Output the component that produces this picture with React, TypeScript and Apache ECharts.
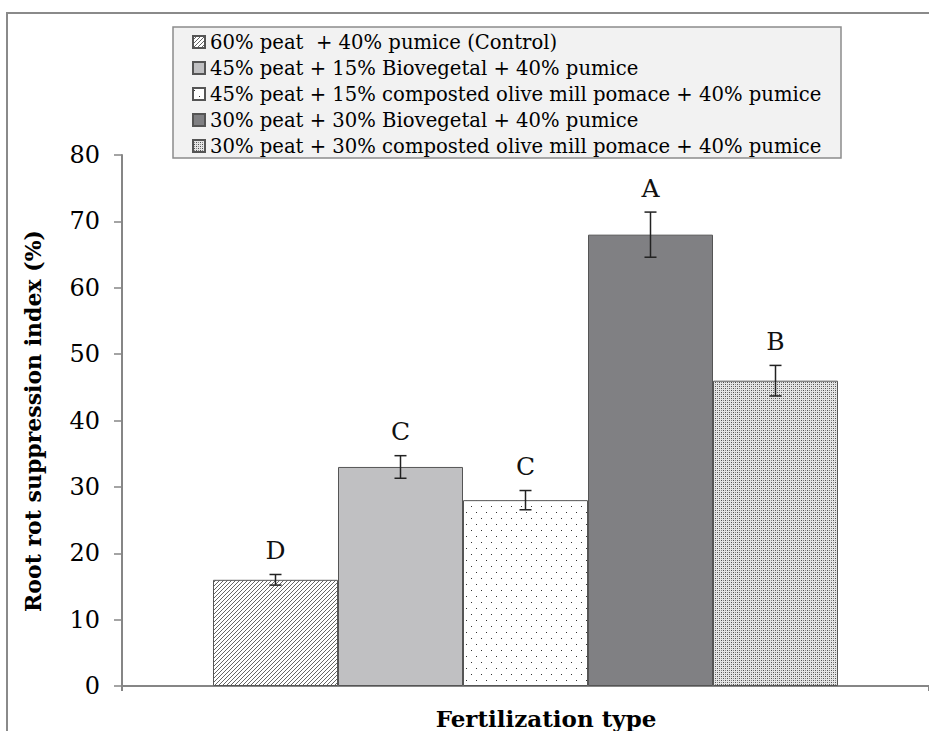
import React, { useEffect, useRef } from "react";
import * as echarts from "echarts";

const categories = ["Fertilization type"];
const seriesNames = [
  "60% peat  + 40% pumice (Control)",
  "45% peat + 15% Biovegetal + 40% pumice",
  "45% peat + 15% composted olive mill pomace + 40% pumice",
  "30% peat + 30% Biovegetal + 40% pumice",
  "30% peat + 30% composted olive mill pomace + 40% pumice",
];
const values = [16, 33, 28, 68, 46];
const errors = [0.8, 1.7, 1.45, 3.4, 2.3];
const letters = ["D", "C", "C", "A", "B"];
const yMin = 0;
const yMax = 80;
const yInterval = 10;

const BAR_WIDTH = 125;
const FONT = "DejaVu Serif";

function makeTile(w: number, h: number, bg: string, draw: (ctx: CanvasRenderingContext2D) => void) {
  const c = document.createElement("canvas");
  c.width = w;
  c.height = h;
  const ctx = c.getContext("2d")!;
  ctx.fillStyle = bg;
  ctx.fillRect(0, 0, w, h);
  draw(ctx);
  return { image: c, repeat: "repeat" } as any;
}

function patterns() {
  const hatch = makeTile(4, 4, "#ffffff", (ctx) => {
    ctx.fillStyle = "#666666";
    for (let x = 0; x < 4; x++) ctx.fillRect(x, 3 - x, 1, 1);
  });
  const sparse = makeTile(10, 12, "#ffffff", (ctx) => {
    ctx.fillStyle = "#333333";
    ctx.fillRect(1, 2, 1, 1);
    ctx.fillRect(6, 8, 1, 1);
  });
  const dense = makeTile(4, 4, "#e6e6e6", (ctx) => {
    ctx.fillStyle = "#505050";
    ctx.fillRect(1, 0, 1, 1);
    ctx.fillRect(3, 2, 1, 1);
    ctx.fillStyle = "#8a8a8a";
    ctx.fillRect(1, 2, 1, 1);
    ctx.fillRect(3, 0, 1, 1);
  });
  return [hatch, "#c0c0c2", sparse, "#808083", dense];
}

export default function App() {
  const ref = useRef<HTMLDivElement>(null);
  useEffect(() => {
    if (!ref.current) return;
    const chart = echarts.init(ref.current, null, { renderer: "svg" });
    const fills = patterns();
    const barSeries = seriesNames.map((name, i) => ({
      name,
      type: "bar",
      data: [values[i]],
      barWidth: BAR_WIDTH,
      barGap: "0%",
      itemStyle: { color: fills[i], borderColor: "#555555", borderWidth: 1 },
      emphasis: { disabled: true },
    }));
    const n = seriesNames.length;
    const errSeries = {
      type: "custom",
      name: "err",
      z: 10,
      data: values.map((v, i) => [0, v, errors[i], i]),
      encode: { x: 0, y: 1 },
      renderItem: (params: any, api: any) => {
        const v = api.value(1);
        const e = api.value(2);
        const i = api.value(3);
        const base = api.coord([0, v]);
        const cx = base[0] + (i - (n - 1) / 2) * BAR_WIDTH;
        const top = api.coord([0, v + e])[1];
        const bot = api.coord([0, v - e])[1];
        const cap = 6;
        const st = { stroke: "#222222", lineWidth: 1.5 };
        return {
          type: "group",
          children: [
            { type: "line", shape: { x1: cx, y1: top, x2: cx, y2: bot }, style: st },
            { type: "line", shape: { x1: cx - cap, y1: top, x2: cx + cap, y2: top }, style: st },
            { type: "line", shape: { x1: cx - cap, y1: bot, x2: cx + cap, y2: bot }, style: st },
            {
              type: "text",
              x: cx,
              y: top - 24,
              style: {
                text: letters[i],
                align: "center",
                verticalAlign: "middle",
                fontFamily: FONT,
                fontSize: 25,
                fill: "#111111",
              },
            },
          ],
        };
      },
    };
    chart.setOption({
      animation: false,
      graphic: [
        { type: "line", shape: { x1: 6, y1: 13, x2: 929, y2: 13 }, style: { stroke: "#8a8a8a", lineWidth: 2 } },
        { type: "line", shape: { x1: 7, y1: 13, x2: 7, y2: 731 }, style: { stroke: "#8a8a8a", lineWidth: 2 } },
        {
          type: "rect",
          z: 0,
          shape: { x: 173, y: 27, width: 668, height: 131 },
          style: { fill: "#f2f2f2", stroke: "#8c8c8c", lineWidth: 1.5 },
        },
        {
          type: "text",
          x: 546,
          y: 718,
          style: {
            text: "Fertilization type",
            align: "center",
            verticalAlign: "middle",
            fontFamily: FONT,
            fontWeight: "bold",
            fontSize: 23,
            fill: "#000000",
          },
        },
        {
          type: "text",
          x: 33,
          y: 421,
          rotation: Math.PI / 2,
          style: {
            text: "Root rot suppression index (%)",
            align: "center",
            verticalAlign: "middle",
            fontFamily: FONT,
            fontWeight: "bold",
            fontSize: 22,
            fill: "#000000",
          },
        },
      ],
      legend: {
        orient: "vertical",
        left: 188,
        top: 28,
        padding: 4,
        itemGap: 6,
        itemWidth: 12,
        itemHeight: 12,
        icon: "rect",
        data: seriesNames,
        selectedMode: false,
        textStyle: { fontFamily: FONT, fontSize: 19.6, color: "#000000" },
        z: 5,
      },
      grid: { left: 122, top: 155, bottom: 45, right: -4, containLabel: false },
      xAxis: {
        type: "category",
        data: categories,
        axisLine: { lineStyle: { color: "#868686", width: 2 } },
        axisTick: { show: true, length: 5, lineStyle: { color: "#868686", width: 2 } },
        axisLabel: { show: false },
        splitLine: { show: false },
      },
      yAxis: {
        type: "value",
        min: yMin,
        max: yMax,
        interval: yInterval,
        axisLine: { show: true, lineStyle: { color: "#868686", width: 2 } },
        axisTick: { show: true, length: 8, lineStyle: { color: "#868686", width: 1.5 } },
        axisLabel: { margin: 22, fontFamily: FONT, fontSize: 24, color: "#000000" },
        splitLine: { show: false },
      },
      series: [...barSeries, errSeries],
    });
    return () => chart.dispose();
  }, []);
  return <div ref={ref} style={{ width: 929, height: 731, position: "absolute", left: 0, top: 0 }} />;
}
